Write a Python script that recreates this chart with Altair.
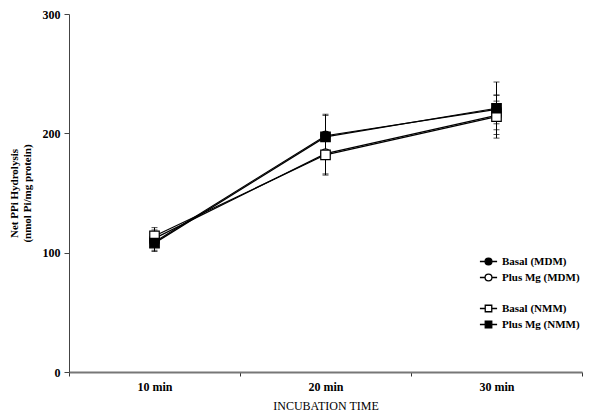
import altair as alt
import pandas as pd

times = ["10 min", "20 min", "30 min"]
series = ["Basal (MDM)", "Plus Mg (MDM)", "Basal (NMM)", "Plus Mg (NMM)"]
basal_mdm = [109, 198, 220]
plus_mg_mdm = [112, 183, 215]
basal_nmm = [114, 182, 214]
plus_mg_nmm = [108, 197, 221]
err_basal_mdm = [7, 18, 12]
err_plus_mg_mdm = [7, 17, 12]
err_basal_nmm = [7, 17, 18]
err_plus_mg_nmm = [7, 18, 22]

values = [basal_mdm, plus_mg_mdm, basal_nmm, plus_mg_nmm]
errors = [err_basal_mdm, err_plus_mg_mdm, err_basal_nmm, err_plus_mg_nmm]

rows = []
for s, vals, errs in zip(series, values, errors):
    for t, v, e in zip(times, vals, errs):
        rows.append({"time": t, "series": s, "value": v, "lo": v - e, "hi": v + e})
df = pd.DataFrame(rows)

gap = " "
legend_domain = ["Basal (MDM)", "Plus Mg (MDM)", gap, "Basal (NMM)", "Plus Mg (NMM)"]
circ = "M-1,0H-0.4M0.4,0H1M-0.4,0A0.4,0.4 0 1,0 0.4,0A0.4,0.4 0 1,0 -0.4,0Z"
sq = "M-1,0H-0.38M0.38,0H1M-0.38,-0.38H0.38V0.38H-0.38Z"
legend_shapes = [circ, circ, "M0,0", sq, sq]
legend_fills = ["black", "white", "white", "white", "black"]
legend_strokes = ["black", "black", "white", "black", "black"]

SERIF = "Liberation Serif"

x_enc = alt.X("time:N", sort=times,
              scale=alt.Scale(paddingInner=0, paddingOuter=0),
              axis=alt.Axis(title="INCUBATION TIME", labelAngle=0, tickBand="extent",
                            labelFont=SERIF, labelFontWeight="bold", labelFontSize=12,
                            labelPadding=5, titleFont=SERIF, titleFontWeight="normal",
                            titleFontSize=12, titlePadding=8, domainColor="#777",
                            domainWidth=2, tickColor="#333", tickSize=4))
y_enc = alt.Y("value:Q", scale=alt.Scale(domain=[0, 300]),
              axis=alt.Axis(values=[0, 100, 200, 300], grid=False,
                            title=["Net PPi Hydrolysis", "(nmol Pi/mg protein)"],
                            labelFont=SERIF, labelFontWeight="bold", labelFontSize=12,
                            titleFont=SERIF, titleFontWeight="bold", titleFontSize=11,
                            titlePadding=10, domainColor="#444", tickColor="#444",
                            tickSize=5, labelPadding=4))

base = alt.Chart(df)

lines = base.mark_line(color="black", strokeWidth=1.2).encode(
    x=x_enc, y=y_enc, detail="series:N")

rules = base.mark_rule(color="black", strokeWidth=1).encode(
    x=alt.X("time:N", sort=times), y="lo:Q", y2="hi:Q")
cap_lo = base.mark_tick(color="black", thickness=1, size=6).encode(
    x=alt.X("time:N", sort=times), y="lo:Q")
cap_hi = base.mark_tick(color="black", thickness=1, size=6).encode(
    x=alt.X("time:N", sort=times), y="hi:Q")

points = base.mark_point(stroke="black", strokeWidth=1.2, size=90, opacity=1).encode(
    x=alt.X("time:N", sort=times), y="value:Q",
    shape=alt.Shape("series:N", scale=alt.Scale(domain=series,
                    range=["circle", "circle", "square", "square"]), legend=None),
    fill=alt.Fill("series:N", scale=alt.Scale(domain=series,
                  range=["black", "white", "white", "black"]), legend=None),
)

leg = alt.Legend(title=None, orient="none", legendX=410, legendY=238,
                 labelFont=SERIF, labelFontWeight="bold", labelFontSize=11,
                 symbolSize=295, symbolStrokeWidth=1.3,
                 symbolOpacity=1, rowPadding=0, labelOffset=4)
legend_layer = base.mark_point(strokeWidth=1.3, size=0, opacity=1).encode(
    x=alt.X("time:N", sort=times), y="value:Q",
    shape=alt.Shape("series:N", scale=alt.Scale(domain=legend_domain, range=legend_shapes), legend=leg),
    fill=alt.Fill("series:N", scale=alt.Scale(domain=legend_domain, range=legend_fills), legend=leg),
    stroke=alt.Stroke("series:N", scale=alt.Scale(domain=legend_domain, range=legend_strokes), legend=leg),
)

chart = alt.layer(lines, rules, cap_lo, cap_hi, points, legend_layer).resolve_scale(
    shape="independent", fill="independent", stroke="independent"
).properties(
    width=513, height=358,
    autosize=alt.AutoSizeParams(type="none"),
    padding={"left": 61, "top": 6, "right": 11, "bottom": 39},
).configure_view(stroke=None).configure_axis(grid=False)

chart.save("out.html", embed_options={"renderer": "svg", "actions": False})
